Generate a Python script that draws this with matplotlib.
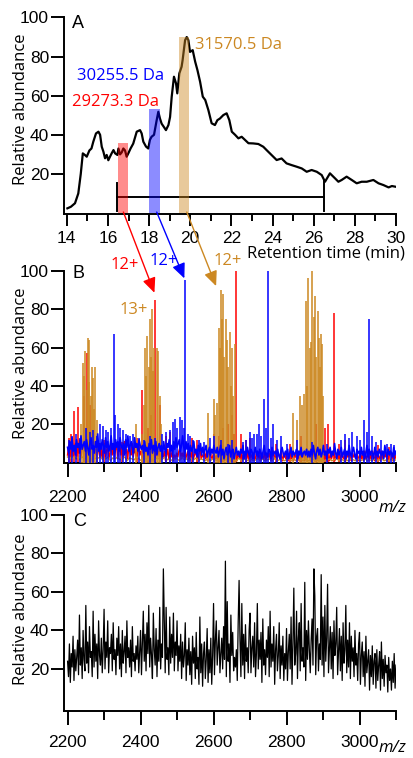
import numpy as np
import matplotlib
matplotlib.use("Agg")
import matplotlib.pyplot as plt
from matplotlib.ticker import MultipleLocator

# ---------------- data ----------------
# Panel A: total ion chromatogram
rt_min = [14.03, 14.2, 14.4, 14.56, 14.68, 14.78, 14.89, 14.97, 15.1, 15.2, 15.29, 15.42, 15.54, 15.62,
          15.7, 15.78, 15.86, 15.94, 16.02, 16.1, 16.18, 16.27, 16.35, 16.46, 16.51, 16.59, 16.67, 16.75,
          16.83, 16.91, 16.99, 17.1, 17.23, 17.4, 17.56, 17.64, 17.72, 17.85, 17.96, 18.04, 18.12, 18.24,
          18.37, 18.45, 18.53, 18.61, 18.72, 18.82, 18.94, 19.02, 19.1, 19.21, 19.31, 19.37, 19.47, 19.58,
          19.63, 19.75, 19.83, 19.91, 19.99, 20.12, 20.24, 20.35, 20.48, 20.61, 20.73, 20.88, 21.04, 21.2,
          21.32, 21.44, 21.61, 21.77, 21.9, 22.02, 22.18, 22.34, 22.5, 22.66, 22.83, 23.06, 23.31, 23.55,
          23.71, 23.95, 24.2, 24.44, 24.68, 24.93, 25.17, 25.42, 25.66, 25.9, 26.15, 26.39, 26.55, 26.79,
          27.04, 27.2, 27.36, 27.6, 27.85, 28.09, 28.33, 28.58, 28.9, 29.15, 29.39, 29.64, 29.8, 30.0]
tic_abund = [2.4, 3.2, 5.0, 10, 20, 30.5, 29.6, 28.8, 32, 33, 36.5, 40.7, 41.6, 40,
             33.9, 31.4, 28, 29.7, 27, 28.8, 30.5, 32.2, 30.5, 29.7, 33, 30, 31, 33,
             32, 28.8, 30.5, 33, 35.5, 41.6, 42.4, 40.7, 36.5, 34, 33, 37.4, 39, 40,
             47.5, 51.8, 48.3, 45.7, 44, 42.4, 45, 49.1, 59.5, 69.7, 66.3, 61.2, 71.4, 74.8,
             78.2, 88.4, 90, 88.4, 82.4, 83.3, 77.4, 73.1, 67.1, 59.5, 57.8, 52.7, 45.9, 45,
             47.5, 48.3, 50.1, 51, 47.5, 41.6, 40, 38.2, 39, 37.4, 35.7, 35.6, 35.3, 33.9,
             32.2, 29.7, 27.1, 27.9, 25.4, 24.5, 23.7, 22.8, 21.1, 22, 21.1, 19.4, 16, 20.3,
             17.7, 16, 16.9, 18.6, 16.9, 15.2, 16, 16, 16.9, 15.2, 14.3, 13.1, 13.8, 13.4]

# highlighted retention windows (start, end, height)
win_labels = ["29273.3 Da", "30255.5 Da", "31570.5 Da"]
win_start = [16.50, 18.02, 19.47]
win_end = [16.99, 18.54, 19.96]
win_top = [36, 53, 90]

# averaging range bar in panel A
bar_start, bar_end, bar_level = 16.43, 26.52, 8.3
cap_low, cap_high_left, cap_high_right = 1.2, 15.5, 17.0

# Panel B: mass spectra, stick peaks
red_peak_mz = [2205, 2210, 2217, 2228, 2245, 2253, 2262, 2280, 2300, 2350, 2390, 2404, 2420, 2428,
               2440, 2452, 2470, 2480, 2540, 2555, 2600, 2615, 2625, 2640, 2650, 2655, 2662, 2675,
               2690, 2700, 2770, 2810, 2840, 2880, 2905, 2915, 2929, 2945, 2960, 3050, 3080]
red_peak_ab = [13, 15, 27, 29, 35, 57, 30, 14, 12, 11, 13, 38, 18, 25,
               85, 30, 14, 16, 13, 12, 15, 14, 18, 20, 25, 15, 100, 15,
               12, 13, 10, 10, 14, 20, 18, 20, 78, 10, 12, 9, 8]
tan_peak_mz = [2236, 2242, 2246, 2249, 2252, 2255, 2258, 2260, 2263, 2267, 2270, 2273, 2276, 2280,
               2388, 2405, 2410, 2413, 2416, 2419, 2422, 2425, 2428, 2431, 2434, 2437, 2445, 2449, 2452, 2456,
               2586, 2600, 2605, 2609, 2614, 2617, 2621, 2624, 2627, 2630, 2633, 2636, 2640, 2644, 2647,
               2650, 2654, 2659,
               2819, 2830, 2837, 2843, 2848, 2852, 2856, 2860, 2863, 2866, 2871, 2875, 2879, 2882, 2885,
               2888, 2891, 2894, 2897, 2900]
tan_peak_ab = [20, 52, 45, 58, 38, 65, 42, 64, 35, 50, 44, 28, 50, 22,
               20, 15, 30, 60, 45, 66, 50, 75, 55, 80, 48, 60, 60, 58, 35, 20,
               26, 33, 25, 31, 70, 60, 90, 75, 88, 55, 75, 64, 50, 68, 40,
               60, 35, 62,
               26, 22, 35, 30, 36, 84, 40, 96, 60, 63, 100, 76, 87, 55, 79,
               65, 50, 67, 62, 35]
blue_peak_mz = [2205, 2212, 2222, 2235, 2250, 2262, 2270, 2280, 2290, 2298, 2305, 2312, 2320, 2328,
                2331, 2338, 2345, 2352, 2360, 2372, 2380, 2395, 2410, 2425, 2440, 2460, 2470, 2480,
                2490, 2495, 2500, 2509, 2513, 2518, 2522, 2530, 2535, 2545, 2560, 2575, 2590, 2600,
                2620, 2640, 2650, 2680, 2690, 2700, 2705, 2712, 2720, 2725, 2730, 2739, 2745, 2750,
                2758, 2764, 2775, 2785, 2800, 2830, 2870, 2910, 2950, 2960, 2970, 2980, 2993, 3000,
                3013, 3020, 3027, 3035, 3045, 3060, 3075, 3085, 3095]
blue_peak_ab = [12, 14, 15, 13, 18, 16, 17, 14, 20, 19, 17, 16, 18, 67,
                25, 20, 18, 17, 15, 14, 15, 13, 12, 14, 13, 15, 16, 17,
                21, 23, 18, 24, 22, 18, 95, 15, 14, 12, 12, 11, 13, 14,
                12, 10, 12, 11, 12, 16, 13, 15, 15, 20, 14, 33, 18, 100,
                13, 20, 12, 14, 10, 12, 11, 10, 12, 15, 13, 16, 14, 12,
                22, 16, 75, 14, 11, 12, 10, 10, 9]

# Panel B: baseline noise (2200 -> 3100 m/z, evenly sampled)
blue_base = [8, 5, 11, 7, 13, 6, 9, 4, 12, 8, 10, 5, 14, 7, 9, 11, 6, 12, 8, 4, 10, 13, 7, 9, 5, 11, 8, 15, 6, 10,
             7, 12, 9, 5, 13, 8, 11, 6, 9, 14, 7, 10, 5, 12, 8, 11, 6, 13, 9, 7, 10, 4, 12, 8, 14, 6, 9, 11, 7, 5,
             13, 8, 10, 6, 12, 9, 7,
             9, 5, 11, 6, 8, 4, 10, 7, 12, 5, 9, 6, 11, 4, 8, 10, 6, 9, 3, 11, 7, 5, 10, 8, 12, 6, 9, 4, 11, 7,
             13, 8, 10,
             12, 6, 9, 14, 8, 5, 11, 7, 10, 4, 9, 6, 8, 11, 5, 7, 3, 9, 6, 10, 4, 8, 5, 7, 9, 3, 6, 8, 4, 7,
             5, 9, 6,
             5, 8, 3, 6, 9, 4, 7, 2, 6, 8, 4, 5, 9, 3, 6, 7, 2, 5, 8, 4, 6, 3, 7, 5, 9, 2, 6, 4, 8, 5,
             3, 7, 6, 2, 5, 8, 4, 6, 3, 7, 5, 2, 6, 9, 4, 5, 3, 7, 6, 2, 8, 4, 5, 6, 3, 7, 4, 2, 6, 8,
             5, 3, 6, 4, 7, 2, 5, 8, 3, 6, 4, 5, 7, 2, 6, 4, 8, 3, 5, 6, 4, 7, 3,
             6, 3, 7, 4, 9, 5, 2, 6, 8, 4, 7, 3, 5, 9, 4, 6, 2, 7, 5, 8, 3, 6, 4, 10, 5, 2, 7, 4, 6, 8,
             3, 5, 7, 2, 6, 4, 9, 5, 3, 6, 8, 4, 2, 7, 5, 6, 3, 8, 4, 6, 2, 5, 9, 3, 7, 4, 6, 5, 2, 8,
             4, 6, 3, 7, 5, 4, 6, 2, 9, 5, 3, 7, 4, 6, 5, 3, 8, 4, 6]
red_base = [4, 9, 2, 7, 11, 3, 6, 10, 2, 8, 5, 12, 3, 7, 9, 4, 10, 2, 6, 9, 3, 8, 5, 11, 2, 7, 4, 9, 6, 3,
            8, 2, 7, 10, 3, 6, 9, 2, 5, 11, 4, 8, 3, 7, 10, 2, 6, 9, 4, 8, 3, 11, 5, 7, 2, 9, 6, 4, 10, 3,
            8, 5, 2, 7, 9, 4, 6,
            3, 7, 2, 6, 9, 3, 5, 8, 2, 6, 4, 7, 2, 8, 3, 6, 4, 2, 5, 3, 6, 1, 4, 7, 2, 5, 3, 6, 1, 4,
            2, 5, 3, 6, 8, 2, 5, 3, 7, 2, 4, 6, 1, 5, 3, 7, 2, 4, 6, 3, 1, 5, 7, 2, 4, 3, 6, 2, 5, 1,
            4, 6, 3, 2, 5, 4,
            2, 4, 1, 5, 3, 6, 2, 4, 1, 3, 6, 2, 5, 1, 4, 3, 6, 2, 4, 1, 5, 3, 2, 6, 1, 4, 3, 5, 2, 6,
            1, 3, 4, 2, 5, 1, 3, 6, 2, 4, 1, 5, 3, 2, 6, 1, 4, 3, 5, 2, 1, 4, 6, 2, 3, 1, 5, 4, 2, 6,
            1, 3, 5, 2, 4, 1, 3, 6, 2, 4, 1, 5, 3, 2, 6, 1, 4, 2, 3, 5, 1, 4, 2,
            3, 6, 1, 4, 2, 5, 3, 7, 1, 4, 2, 6, 3, 5, 1, 4, 2, 6, 3, 1, 5, 2, 4, 6, 1, 3, 5, 2, 4, 1,
            6, 3, 2, 5, 1, 4, 3, 6, 2, 1, 5, 3, 4, 2, 6, 1, 3, 5, 2, 4, 1, 6, 2, 3, 5, 1, 4, 2, 6, 3,
            1, 5, 2, 4, 3, 1, 6, 2, 4, 3, 5, 1, 2, 4, 6, 3, 1, 5, 2, 4]
tan_base = [3, 2, 3.5, 2, 3, 1.5, 3, 2.5, 2, 3.5, 1.5, 3, 2, 2.5, 3, 1.5, 2, 3, 1, 2.5, 2, 3, 1.5, 2, 3, 1, 2.5, 2, 1.5, 3, 2, 1, 2.5, 2,
            1.5, 3, 1, 2, 2.5, 1, 2, 3, 1.5, 2, 1, 2.5, 2, 1, 3, 1.5, 2,
            1, 2, 1.5, 2.5, 1, 2, 1.5, 1, 2.5, 1, 2, 1.5, 1, 2, 1, 2.5, 1.5,
            1, 2, 1.5, 1, 2.5, 1, 2, 1.5, 1, 2, 1, 1.5, 2.5, 1, 2, 1, 1.5, 2, 1, 2.5, 1, 1.5, 2, 1, 1.5, 2, 1, 2,
            1, 1.5, 2, 1, 2.5, 1, 1.5, 2, 1, 1.5, 1, 2, 1, 1.5, 2, 1, 1.5, 2.5, 1, 2, 1, 1.5, 1, 2, 1.5, 1, 2, 1,
            1.5, 2, 1, 1.5, 1, 2, 1, 1.5, 2, 1, 1.5, 1, 2, 1, 1.5]

# Panel C: noisy spectrum (2200 -> 3100 m/z, evenly sampled)
c_abund = [24, 16, 33, 13, 28, 21, 37, 14, 30, 19, 26, 35, 17, 48, 22, 31, 15, 40, 25, 19,
           53, 23, 34, 18, 42, 26, 29, 16, 50, 21, 38, 24, 33, 15, 45, 27, 22, 36, 18, 30,
           51, 20, 34, 26, 45, 18, 31, 28, 38, 19, 44, 25, 30, 17, 36, 27, 42, 20, 33, 16,
           40, 23, 29, 37, 18, 45, 26, 31, 21, 35, 16, 42, 24, 28, 19, 32, 25, 37, 18, 29,
           40, 17, 33, 50, 24, 38, 19, 44, 28, 53, 21, 36, 27, 15, 49, 30, 22, 41, 16, 35,
           24, 52, 20, 33, 26, 72, 46, 18, 52, 25, 31, 17, 47, 23, 38, 26, 49, 19, 34, 27,
           45, 19, 32, 24, 38, 15, 34, 21, 27, 44, 14, 30, 22, 36, 17, 29, 12, 37, 23, 31,
           15, 39, 20, 26, 12, 47, 18, 33, 11, 28, 34, 15, 25, 41, 13, 30, 18, 36, 12, 27,
           54, 17, 35, 45, 22, 31, 40, 18, 28, 36, 20, 42, 25, 76, 16, 55, 24, 33, 13, 48,
           27, 39, 19, 26, 21, 30, 14, 44, 66, 35, 16, 54, 22, 38, 15, 43, 24, 31, 18, 40,
           49, 18, 31, 37, 21, 44, 16, 28, 54, 20, 35, 25, 39, 13, 46, 22, 30, 17, 35, 26,
           42, 16, 50, 21, 33, 24, 42, 12, 30, 38, 19, 27, 44, 15, 32, 22, 37, 14, 28, 20,
           41, 14, 29, 38, 20, 47, 12, 33, 62, 22, 28, 50, 15, 36, 44, 19, 54, 24, 31, 21,
           65, 14, 40, 25, 45, 30, 18, 35, 46, 22, 72, 58, 17, 37, 41, 19, 33, 25, 69, 22,
           47, 16, 53, 24, 36, 64, 18, 30, 42, 20, 39, 15, 45, 27, 33, 52, 17, 29, 41, 19,
           37, 14, 44, 23, 30, 53, 18, 35, 21, 44, 15, 37, 24, 31, 16, 40, 22, 28, 14, 33,
           39, 12, 27, 34, 16, 29, 11, 37, 18, 24, 30, 9, 27, 16, 32, 12, 24, 28, 10, 30,
           14, 22, 29, 9, 34, 15, 25, 11, 27, 18, 22, 8, 26, 14, 20, 9, 24, 13, 28, 10, 22]

mz_lo, mz_hi = 2200, 3100

# arrows: start in panel A (min, abundance) -> tip in panel B (m/z, abundance)
arrow_start = [(16.75, 0.5), (18.37, 0.5), (19.83, 0.5)]
arrow_tip = [(2438, 88.5), (2520, 96), (2607, 92)]

# ---------------- style ----------------
RED, BLUE, TAN = "#FF0000", "#0000FF", "#CC8822"
TXT = ["Open Sans", "DejaVu Sans"]
NUM = ["Liberation Sans", "DejaVu Sans"]
plt.rcParams["font.family"] = NUM

W, H = 413, 758
fig = plt.figure(figsize=(W / 100, H / 100), dpi=100)


def fx(px):
    return px / W


def fy(py):
    return 1 - py / H


def make_ax(top_px, bottom_px):
    ax = fig.add_axes([fx(64.3), fy(bottom_px), fx(396) - fx(64.3), (bottom_px - top_px) / H])
    for s in ("top", "right"):
        ax.spines[s].set_visible(False)
    for s in ("left", "bottom"):
        ax.spines[s].set_linewidth(1.4)
    ax.tick_params(axis="y", direction="out", length=9.5, width=1.4, pad=1.5, labelsize=12.5)
    ax.set_yticks([20, 40, 60, 80, 100])
    ax.tick_params(axis="x", which="both", direction="out", width=1.4, labelsize=12.5)
    return ax


axA = make_ax(17.5, 214)
axB = make_ax(270.7, 462.7)
axC = make_ax(515, 710.7)

# ---- Panel A ----
axA.plot(rt_min, tic_abund, color="black", lw=1.6, zorder=2)
for s, e, t, c in zip(win_start, win_end, win_top, [RED, BLUE, TAN]):
    axA.bar(s, t, width=e - s, align="edge", color=c, alpha=0.45, lw=0, zorder=3)
axA.plot([bar_start, bar_end], [bar_level, bar_level], color="black", lw=1.4, zorder=2)
axA.plot([bar_start, bar_start], [cap_low, cap_high_left], color="black", lw=1.4, zorder=2)
axA.plot([bar_end, bar_end], [cap_low, cap_high_right], color="black", lw=1.4, zorder=2)
axA.set_xlim(13.88, 30)
axA.set_ylim(-0.5, 100)
axA.xaxis.set_major_locator(MultipleLocator(2))
axA.xaxis.set_minor_locator(MultipleLocator(1))
axA.tick_params(axis="x", which="major", length=8.6, pad=3.5)
axA.tick_params(axis="x", which="minor", length=5)

# ---- Panel B ----
def base_x(vals):
    return np.linspace(mz_lo, mz_hi, len(vals))

axB.vlines(red_peak_mz, 0, red_peak_ab, color=RED, lw=1.1, zorder=2)
axB.plot(base_x(red_base), red_base, color=RED, lw=1.1, zorder=2)
axB.vlines(tan_peak_mz, 0, tan_peak_ab, color=TAN, lw=1.3, alpha=0.85, zorder=3)
axB.plot(base_x(tan_base), tan_base, color=TAN, lw=1.0, zorder=3)
axB.vlines(blue_peak_mz, 0, blue_peak_ab, color=BLUE, lw=1.1, zorder=4)
axB.plot(base_x(blue_base), blue_base, color=BLUE, lw=1.2, zorder=4)
axB.set_xlim(2191, 3100)
axB.set_ylim(0, 100)

# ---- Panel C ----
axC.plot(base_x(c_abund), c_abund, color="black", lw=0.9)
axC.set_xlim(2191, 3100)
axC.set_ylim(-1.7, 100)

for ax, pad in ((axB, 9.5), (axC, 7.5)):
    ax.xaxis.set_major_locator(MultipleLocator(200))
    ax.xaxis.set_minor_locator(MultipleLocator(100))
    ax.tick_params(axis="x", which="major", length=10, pad=pad)
    ax.tick_params(axis="x", which="minor", length=6.5)

# ---- text ----
def ftext(px, py, s, **kw):
    fig.text(fx(px), fy(py), s, **kw)

for cy in (109, 363, 609):
    ftext(20.7, cy, "Relative abundance", rotation=90, ha="center", va="center",
          fontsize=12, family=TXT)
ftext(71.7, 21.7 + 6.5, "A", fontsize=13, va="baseline", ha="left")
ftext(73, 271.5 + 6.5, "B", fontsize=13, va="baseline", ha="left")
ftext(73, 520 + 6.5, "C", fontsize=13, va="baseline", ha="left")

ftext(195, 43.3 + 6, win_labels[2], color=TAN, fontsize=12, family=TXT, va="baseline")
ftext(77.3, 74 + 6, win_labels[1], color=BLUE, fontsize=12, family=TXT, va="baseline")
ftext(71.7, 100 + 6, win_labels[0], color=RED, fontsize=12, family=TXT, va="baseline")

ftext(246.7, 252 + 5, "Retention time (min)", fontsize=12, family=TXT, va="baseline")
ftext(125, 263.3 + 6, "12+", color=RED, fontsize=12, family=TXT, ha="center", va="baseline")
ftext(163.3, 259.3 + 6, "12+", color=BLUE, fontsize=12, family=TXT, ha="center", va="baseline")
ftext(227.5, 258.7 + 6, "12+", color=TAN, fontsize=12, family=TXT, ha="center", va="baseline")
ftext(133.3, 308.3 + 6, "13+", color=TAN, fontsize=12, family=TXT, ha="center", va="baseline")

ftext(392, 508.3, "m/z", fontsize=12, style="italic", ha="center", va="center", family=TXT)
ftext(392, 748.5, "m/z", fontsize=12, style="italic", ha="center", va="center", family=TXT)

# ---- arrows from panel A into panel B ----
for (t0, a0), (m1, a1), c in zip(arrow_start, arrow_tip, [RED, BLUE, TAN]):
    axB.annotate("", xy=(m1, a1), xycoords=axB.transData,
                 xytext=(t0, a0), textcoords=axA.transData,
                 arrowprops=dict(arrowstyle="-|>,head_length=0.45,head_width=0.2",
                                 mutation_scale=20, color=c, lw=1.0,
                                 shrinkA=0, shrinkB=0),
                 annotation_clip=False, zorder=10)

fig.savefig("out.png", dpi=100)
